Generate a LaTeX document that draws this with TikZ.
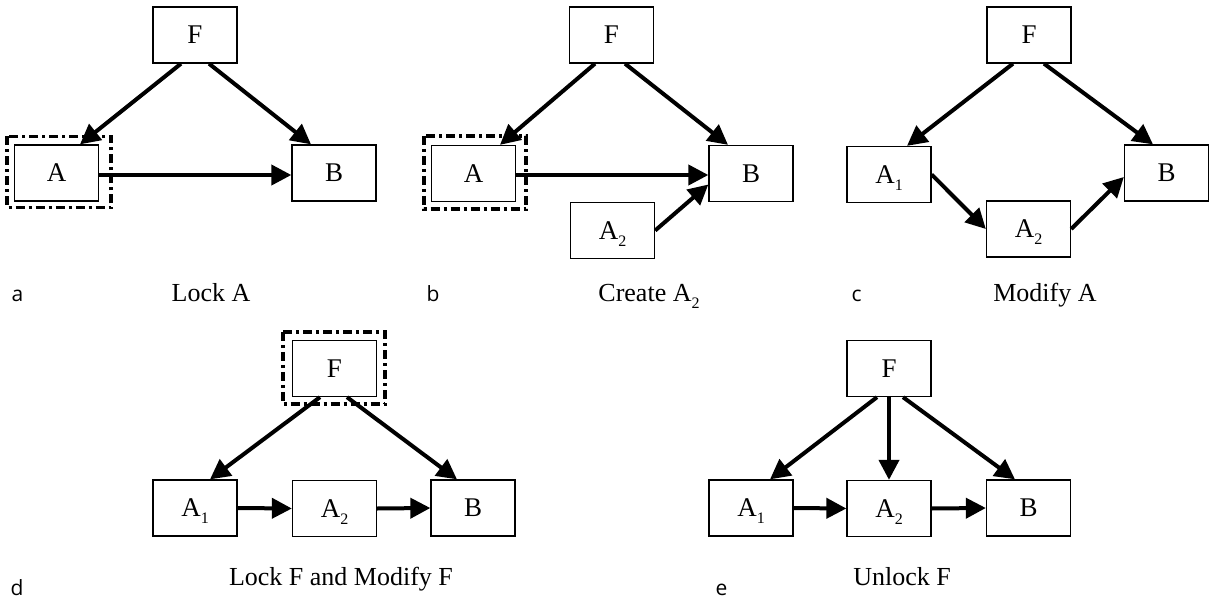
\documentclass[tikz,border=0pt]{standalone}
\usepackage{fontspec}
\setmainfont{Liberation Serif}
\newfontfamily\panelfont{Open Sans}
\usetikzlibrary{arrows.meta}
\newcommand{\low}[1]{\raisebox{-7pt}[0pt][0pt]{\fontsize{16}{16}\selectfont #1}}

\begin{document}
\begin{tikzpicture}[x=1pt,y=-1pt,
  blk/.style={draw,line width=1.3pt,minimum width=84pt,minimum height=56pt,inner sep=0pt,font=\fontsize{27}{27}\selectfont},
  lnk/.style={line width=4pt,-{Triangle[length=20pt,width=20pt]}},
  lockbox/.style={line width=3.4pt,dash pattern=on 9pt off 4pt on 3pt off 4pt},
  tag/.style={anchor=base west,font={\panelfont\fontsize{21}{24}\selectfont}},
  ttl/.style={anchor=base,font=\fontsize{26}{30}\selectfont}]
\useasboundingbox (0,0) rectangle (1210,599);
% a: lock A
\node[blk] (Fa) at (195,35) {F};
\node[blk] (Aa) at (56.5,173) {A};
\node[blk] (Ba) at (334,173) {B};
\draw[lockbox] ([shift={(-7pt,8pt)}]Aa.north west) rectangle ([shift={(12pt,-6pt)}]Aa.south east);
\draw[lnk] ([xshift=-14pt]Fa.south) -- ([xshift=23.5pt]Aa.north);
\draw[lnk] ([xshift=14pt]Fa.south) -- ([xshift=-23pt]Ba.north);
\draw[lnk] ([yshift=-2pt]Aa.east) -- ([yshift=-2pt]Ba.west);
\node[tag] (ta) at (8,301) {a};
\node[ttl] (la) at (211,301) {Lock A};
% b: create A2
\node[blk] (Fb) at (611.5,35) {F};
\node[blk] (Ab) at (473.5,173.5) {A};
\node[blk] (Bb) at (751,173.5) {B};
\node[blk] (A2b) at (612.5,230.5) {A\low{2}};
\draw[lockbox] ([shift={(-7pt,9pt)}]Ab.north west) rectangle ([shift={(10pt,-7pt)}]Ab.south east);
\draw[lnk] ([xshift=-16.5pt]Fb.south) -- ([xshift=26.5pt]Ab.north);
\draw[lnk] ([xshift=13.5pt]Fb.south) -- ([xshift=-23pt]Bb.north);
\draw[lnk] ([yshift=-1.5pt]Ab.east) -- ([yshift=-1.5pt]Bb.west);
\draw[lnk] (A2b.east) -- ([yshift=-11pt]Bb.west);
\node[tag] (tb) at (423,301) {b};
\node[ttl] (lb) at (649,301) {Create A\low{2}};
% c: modify A
\node[blk] (Fc) at (1029,35) {F};
\node[blk] (A1c) at (889,174.5) {A\low{1}};
\node[blk] (A2c) at (1028.5,229) {A\low{2}};
\node[blk] (Bc) at (1166.5,173) {B};
\draw[lnk] ([xshift=-16pt]Fc.south) -- ([xshift=18pt]A1c.north);
\draw[lnk] ([xshift=15pt]Fc.south) -- ([xshift=-13.5pt]Bc.north);
\draw[lnk] (A1c.east) -- (A2c.west);
\draw[lnk] (A2c.east) -- ([yshift=-4pt]Bc.west);
\node[tag] (tc) at (848,301) {c};
\node[ttl] (lc) at (1045,301) {Modify A};
% d: lock F, modify F
\node[blk] (Fd) at (334.5,368.5) {F};
\node[blk] (A1d) at (195,508) {A\low{1}};
\node[blk] (A2d) at (334.5,508.5) {A\low{2}};
\node[blk] (Bd) at (473,508) {B};
\draw[lockbox] ([shift={(-9pt,8pt)}]Fd.north west) rectangle ([shift={(8pt,-7pt)}]Fd.south east);
\draw[lnk] ([xshift=-14.5pt]Fd.south) -- ([xshift=15pt]A1d.north);
\draw[lnk] ([xshift=12.5pt]Fd.south) -- ([xshift=-16pt]Bd.north);
\draw[lnk] (A1d.east) -- (A2d.west);
\draw[lnk] (A2d.east) -- (Bd.west);
\node[tag] (td) at (7,595) {d};
\node[ttl] (ld) at (341,585) {Lock F and Modify F};
% e: unlock F
\node[blk] (Fe) at (889,368.5) {F};
\node[blk] (A1e) at (751,508) {A\low{1}};
\node[blk] (A2e) at (889,508.5) {A\low{2}};
\node[blk] (Be) at (1028.5,508) {B};
\draw[lnk] ([xshift=-12pt]Fe.south) -- ([xshift=19pt]A1e.north);
\draw[lnk] (Fe.south) -- (A2e.north);
\draw[lnk] ([xshift=14pt]Fe.south) -- ([xshift=-13.5pt]Be.north);
\draw[lnk] (A1e.east) -- (A2e.west);
\draw[lnk] (A2e.east) -- (Be.west);
\node[tag] (te) at (712,595) {e};
\node[ttl] (le) at (902,585) {Unlock F};
\end{tikzpicture}
\end{document}
